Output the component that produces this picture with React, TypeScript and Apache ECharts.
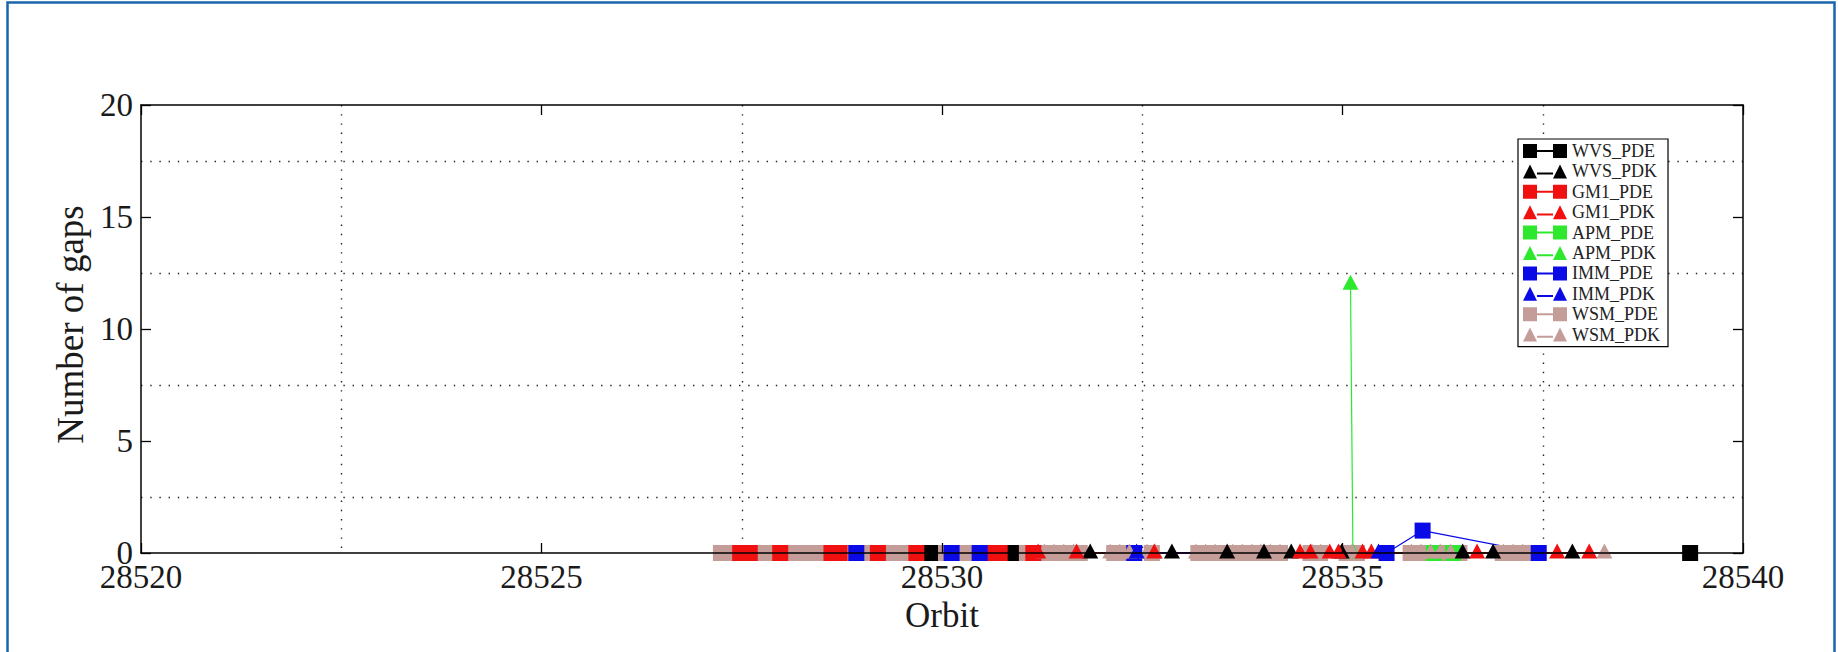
import React, { useEffect, useRef } from 'react';
import * as echarts from 'echarts';

// ---------- data ----------
const seriesNames = ['WVS_PDE', 'WVS_PDK', 'GM1_PDE', 'GM1_PDK', 'APM_PDE', 'APM_PDK', 'IMM_PDE', 'IMM_PDK', 'WSM_PDE', 'WSM_PDK'];
const seriesColors: Record<string, string> = {
  WVS_PDE: '#000000', WVS_PDK: '#000000',
  GM1_PDE: '#f01010', GM1_PDK: '#f01010',
  APM_PDE: '#2ee82e', APM_PDK: '#2ee82e',
  IMM_PDE: '#0a0ae6', IMM_PDK: '#0a0ae6',
  WSM_PDE: '#c49c98', WSM_PDK: '#c49c98',
};
const xTickValues = [28520, 28525, 28530, 28535, 28540];
const yTickValues = [0, 5, 10, 15, 20];

const wvsPde: [number, number][] = [[28528.66, 0], [28529.85, 0], [28530.86, 0], [28539.34, 0]];
const wvsPdk: [number, number][] = [[28531.85, 0], [28532.87, 0], [28533.56, 0], [28534.02, 0], [28534.36, 0], [28534.99, 0], [28536.5, 0], [28536.88, 0], [28537.87, 0]];
const gm1Pde: [number, number][] = [[28527.48, 0], [28527.6, 0], [28527.98, 0], [28528.62, 0], [28528.72, 0], [28529.2, 0], [28529.68, 0], [28530.6, 0], [28530.72, 0], [28531.14, 0]];
const gm1Pdk: [number, number][] = [[28531.2, 0], [28531.68, 0], [28532.65, 0], [28534.47, 0], [28534.6, 0], [28534.84, 0], [28534.95, 0], [28535.25, 0], [28535.36, 0], [28536.68, 0], [28537.68, 0], [28538.08, 0]];
const apmPde: [number, number][] = [[28536.14, 0], [28536.38, 0]];
const apmPdk: [number, number][] = [[28535.1, 12], [28535.13, 0]];
const immPde: [number, number][] = [[28528.93, 0], [28530.12, 0], [28530.47, 0], [28532.4, 0], [28535.55, 0], [28536.0, 1], [28537.45, 0]];
const immPdk: [number, number][] = [[28532.43, 0], [28535.45, 0]];
const wsmPde: [number, number][] = [
  [28527.24, 0], [28527.36, 0], [28527.47, 0], [28527.6, 0], [28527.71, 0], [28527.83, 0], [28527.96, 0], [28528.07, 0],
  [28528.2, 0], [28528.31, 0], [28528.43, 0], [28528.56, 0], [28528.67, 0], [28528.8, 0], [28528.91, 0], [28529.03, 0],
  [28529.16, 0], [28529.27, 0], [28529.39, 0], [28529.52, 0], [28529.63, 0], [28529.75, 0], [28529.88, 0], [28529.99, 0],
  [28530.12, 0], [28530.23, 0], [28530.35, 0], [28530.48, 0], [28530.59, 0], [28530.71, 0], [28530.84, 0], [28530.95, 0],
  [28531.08, 0], [28531.19, 0], [28531.31, 0], [28531.44, 0], [28531.56, 0], [28531.72, 0], [28532.15, 0], [28532.3, 0],
  [28532.62, 0], [28533.2, 0], [28533.32, 0], [28533.45, 0], [28533.6, 0], [28533.72, 0], [28533.85, 0], [28533.97, 0],
  [28534.1, 0], [28534.22, 0], [28534.6, 0], [28534.72, 0], [28535.05, 0], [28535.18, 0], [28535.85, 0], [28535.97, 0],
  [28536.1, 0], [28536.22, 0], [28536.34, 0], [28536.46, 0], [28537.0, 0], [28537.12, 0], [28537.24, 0], [28537.36, 0],
];
const wsmPdk: [number, number][] = [
  [28531.28, 0], [28531.4, 0], [28531.52, 0], [28531.64, 0], [28532.1, 0], [28532.22, 0], [28532.34, 0], [28532.56, 0],
  [28532.66, 0], [28533.17, 0], [28533.29, 0], [28533.41, 0], [28533.63, 0], [28533.75, 0], [28533.87, 0], [28533.98, 0],
  [28534.1, 0], [28534.22, 0], [28534.62, 0], [28534.73, 0], [28535.12, 0], [28535.86, 0], [28535.98, 0], [28536.1, 0],
  [28536.22, 0], [28536.35, 0], [28537.01, 0], [28537.13, 0], [28537.25, 0], [28538.27, 0],
];

const seriesData: Record<string, [number, number][]> = {
  WVS_PDE: wvsPde, WVS_PDK: wvsPdk, GM1_PDE: gm1Pde, GM1_PDK: gm1Pdk,
  APM_PDE: apmPde, APM_PDK: apmPdk, IMM_PDE: immPde, IMM_PDK: immPdk,
  WSM_PDE: wsmPde, WSM_PDK: wsmPdk,
};
// drawing order (first = bottom)
const drawOrder = ['WSM_PDE', 'WVS_PDE', 'GM1_PDE', 'IMM_PDE', 'APM_PDE', 'APM_PDK', 'WSM_PDK', 'WVS_PDK', 'GM1_PDK', 'IMM_PDK'];

const FONT = 'Liberation Serif';
const squareIcon = 'path://M0 0H14V14H0Z M14 6H30V8H14Z M30 0H44V14H30Z';
const triangleIcon = 'path://M7 0L14 14H0Z M14 8.2H30V10.2H14Z M37 0L44 14H30Z';

export default function App() {
  const ref = useRef<HTMLDivElement>(null);
  useEffect(() => {
    if (!ref.current) return;
    const chart = echarts.init(ref.current, undefined, { renderer: 'svg' });
    const axisLineStyle = { show: true, onZero: false, lineStyle: { color: '#000', width: 1.5 } };
    const tickStyle = { show: true, inside: true, length: 10, lineStyle: { color: '#000', width: 1.3 } };
    const dotted = { color: '#222', width: 1.4, type: [1.4, 7.8] };
    const option: any = {
      animation: false,
      backgroundColor: '#ffffff',
      grid: { left: 141, top: 105, width: 1602, height: 448, containLabel: false },
      xAxis: [
        {
          type: 'value', position: 'bottom', z: 5,
          min: xTickValues[0], max: xTickValues[xTickValues.length - 1], interval: 5,
          axisLine: axisLineStyle, axisTick: tickStyle, splitLine: { show: false },
          axisLabel: { show: true, margin: 14, lineHeight: 20, fontFamily: FONT, fontSize: 33, color: '#1a1a1a', formatter: (v: number) => String(v) },
          name: 'Orbit', nameLocation: 'middle', nameGap: 35,
          nameTextStyle: { fontFamily: FONT, fontSize: 35, color: '#1a1a1a' },
        },
        {
          type: 'value', position: 'top',
          min: xTickValues[0], max: xTickValues[xTickValues.length - 1], interval: 5,
          axisLine: axisLineStyle, axisTick: tickStyle, splitLine: { show: false },
          minorTick: { show: false, splitNumber: 2 },
          minorSplitLine: { show: true, lineStyle: dotted },
          axisLabel: { show: false },
        },
      ],
      yAxis: [
        {
          type: 'value', position: 'left',
          min: yTickValues[0], max: yTickValues[yTickValues.length - 1], interval: 5,
          axisLine: axisLineStyle, axisTick: tickStyle, splitLine: { show: false },
          minorTick: { show: false, splitNumber: 2 },
          minorSplitLine: { show: true, lineStyle: dotted },
          axisLabel: { show: true, margin: 8, lineHeight: 20, fontFamily: FONT, fontSize: 33, color: '#1a1a1a' },
          name: 'Number of gaps', nameLocation: 'middle', nameGap: 50, nameRotate: 90,
          nameTextStyle: { fontFamily: FONT, fontSize: 37, color: '#1a1a1a', padding: [0, 0, 0, 9] },
        },
        {
          type: 'value', position: 'right',
          min: yTickValues[0], max: yTickValues[yTickValues.length - 1], interval: 5,
          axisLine: axisLineStyle, axisTick: tickStyle, splitLine: { show: false },
          axisLabel: { show: false },
        },
      ],
      legend: {
        orient: 'vertical',
        left: 1518, top: 139,
        itemWidth: 44, itemHeight: 14, itemGap: 2.4,
        padding: [3, 8, 3, 5],
        backgroundColor: '#ffffff', borderColor: '#000', borderWidth: 1.2, borderRadius: 0,
        textStyle: { fontFamily: FONT, fontSize: 18, lineHeight: 18, color: '#222' },
        itemStyle: { borderWidth: 0 },
        selectedMode: false,
        data: seriesNames.map((n) => ({ name: n, icon: n.endsWith('PDE') ? squareIcon : triangleIcon })),
      },
      graphic: [
        {
          type: 'rect', silent: true, z: 100,
          shape: { x: 7.5, y: 2.5, width: 1827, height: 700 },
          style: { fill: 'none', stroke: '#1a66aa', lineWidth: 2.5 },
        },
      ],
      series: drawOrder.map((n) => {
        const isSquare = n.endsWith('PDE');
        return {
          name: n,
          type: 'line',
          xAxisIndex: 0, yAxisIndex: 0,
          data: seriesData[n],
          symbol: isSquare ? 'rect' : 'triangle',
          symbolSize: isSquare ? 16 : [16, 15],
          symbolOffset: isSquare ? [0, 0] : [0, -2],
          showSymbol: true,
          clip: false,
          silent: true,
          lineStyle: { color: seriesColors[n], width: 1.2 },
          itemStyle: { color: seriesColors[n], borderWidth: 0 },
          emphasis: { disabled: true },
        };
      }),
    };
    chart.setOption(option);
    return () => chart.dispose();
  }, []);
  return <div ref={ref} style={{ position: 'fixed', left: 0, top: 0, width: 1838, height: 652 }} />;
}
